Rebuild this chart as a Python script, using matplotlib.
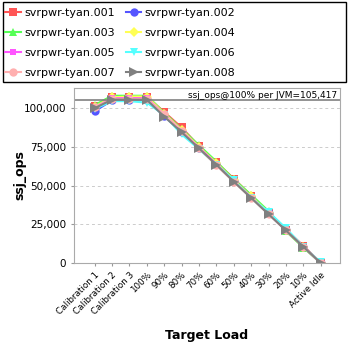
import numpy as np
import matplotlib
matplotlib.use("Agg")
import matplotlib.pyplot as plt
from matplotlib.patches import Rectangle
from matplotlib.ticker import FuncFormatter

categories = ["Calibration 1", "Calibration 2", "Calibration 3", "100%", "90%", "80%",
              "70%", "60%", "50%", "40%", "30%", "20%", "10%", "Active Idle"]

names = ["svrpwr-tyan.001", "svrpwr-tyan.002", "svrpwr-tyan.003", "svrpwr-tyan.004",
         "svrpwr-tyan.005", "svrpwr-tyan.006", "svrpwr-tyan.007", "svrpwr-tyan.008"]

s001 = [101500, 107500, 107500, 107500, 97500, 87500, 75500, 65000, 54500, 43500, 32500, 21500, 11200, 0]
s002 = [98000, 105000, 105500, 105000, 95000, 84500, 74500, 64000, 53000, 42500, 32000, 21500, 10500, 0]
s003 = [102000, 108000, 108000, 108000, 97000, 86500, 76000, 65500, 54000, 44000, 33500, 20500, 10000, 0]
s004 = [101000, 107000, 107500, 107500, 96500, 86000, 75000, 64500, 53500, 43000, 32500, 21000, 10500, 0]
s005 = [100500, 106500, 106500, 106500, 96000, 85500, 74500, 64000, 53000, 42500, 32000, 21000, 10500, 0]
s006 = [99500, 104500, 104500, 103500, 95500, 83000, 73500, 63500, 53500, 42000, 33000, 22500, 10500, 500]
s007 = [100500, 106000, 106000, 106000, 96000, 85500, 74000, 63000, 52500, 42000, 31500, 21000, 10500, 0]
s008 = [100000, 105500, 105500, 105400, 94500, 84500, 74000, 63500, 52500, 42000, 31500, 21000, 10500, 0]

ref_value = 105417

series = [s001, s002, s003, s004, s005, s006, s007, s008]
colors = ["#ff5555", "#5555ff", "#55ff55", "#ffff55", "#ff55ff", "#55ffff", "#ffafaf", "#808080"]
markers = ["s", "o", "^", "D", "s", "v", "o", ">"]
msizes = [6, 6, 6, 5, 5, 6, 6, 7.5]

fig = plt.figure(figsize=(3.48, 3.48), dpi=100)
ax = fig.add_axes([74 / 348, 1 - 263 / 348, 266 / 348, 175 / 348])

x = np.arange(len(categories))
handles = []
for vals, c, m, ms, n in zip(series, colors, markers, msizes, names):
    h, = ax.plot(x, vals, color=c, marker=m, markersize=ms, linewidth=1.5, label=n,
                 markeredgewidth=0)
    handles.append(h)

ax.axhline(ref_value, color="#808080", linewidth=1.2)
ax.text(0.99, 0.985, "ssj_ops@100% per JVM=105,417", transform=ax.transAxes,
        ha="right", va="top", fontsize=6.5)

ax.set_xlim(-1.19, 14.11)
ax.set_ylim(0, 113000)
ax.set_yticks([0, 25000, 50000, 75000, 100000])
ax.yaxis.set_major_formatter(FuncFormatter(lambda v, p: f"{int(v):,}"))
ax.yaxis.grid(True, color="#cccccc", linestyle=(0, (3, 3)), linewidth=0.7)
ax.set_axisbelow(True)
ax.set_xticks(x)
ax.set_xticklabels(categories, rotation=45, ha="right", rotation_mode="anchor", fontsize=6.3)
ax.tick_params(axis="y", labelsize=7.5, length=2, color="#999999")
ax.tick_params(axis="x", length=2, color="#999999")
for sp in ax.spines.values():
    sp.set_color("#aaaaaa")

ax.set_ylabel("ssj_ops", fontsize=9, fontweight="bold", va="center")
ax.yaxis.set_label_coords(-0.203, 0.5)
ax.set_xlabel("Target Load", fontsize=9, fontweight="bold", va="center")
ax.xaxis.set_label_coords(0.5, -0.417)

# legend box
fig.patches.append(Rectangle((3 / 348, 1 - 82 / 348), 343 / 348, 80 / 348,
                             transform=fig.transFigure, fill=False,
                             edgecolor="black", linewidth=1))
order = [0, 2, 4, 6, 1, 3, 5, 7]
leg = fig.legend([handles[i] for i in order], [names[i] for i in order], ncol=2,
                 loc="upper left", bbox_to_anchor=(4 / 348, 1 - 7 / 348),
                 fontsize=8, frameon=False,
                 handlelength=1.4, handletextpad=0.3, columnspacing=1.0,
                 labelspacing=0.9, borderpad=0.1, borderaxespad=0)

fig.savefig("out.png", dpi=100)
